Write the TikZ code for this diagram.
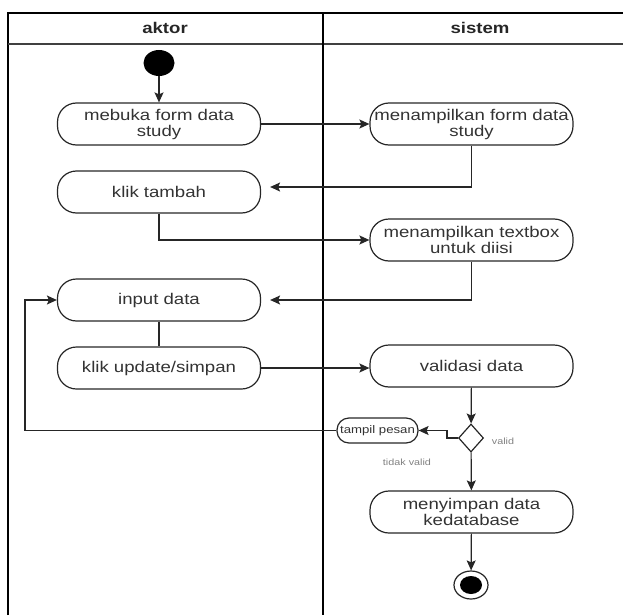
\documentclass[tikz,border=0pt]{standalone}
\usepackage{fontspec}
\setmainfont{Liberation Sans}[FakeStretch=1.2]
\usetikzlibrary{arrows.meta,shapes.geometric}

\tikzset{
  act/.style={draw=black!85, line width=1.2pt, rounded corners=19pt,
    minimum width=203pt, minimum height=42pt, inner sep=0pt, align=center,
    text=black!80, font=\fontsize{15.5}{16}\selectfont},
  flow/.style={draw=black!85, line width=1.2pt,
    -{Stealth[length=10pt,width=9pt,inset=2pt]}},
  link/.style={draw=black!85, line width=1.2pt},
  lane/.style={line width=1.5pt},
  guard/.style={text=black!50, font=\fontsize{9}{10}\selectfont},
}

\begin{document}
\begin{tikzpicture}[x=1pt,y=-1pt]
  \useasboundingbox (0,0) rectangle (623,615);
  \coordinate (tl) at (8, 13);
  \coordinate (tr) at (623, 13);
  \coordinate (hl) at (8, 44);
  \coordinate (hr) at (623, 44);
  \coordinate (bl) at (8, 615);
  \coordinate (dt) at (323, 13);
  \coordinate (db) at (323, 615);

  % swimlanes
  \draw[lane] (bl) -- (tl) -- (tr);
  \draw[lane, draw=black!75] (hl) -- (hr);
  \draw[line width=2.7pt] (dt) -- (db);

  \node[font=\bfseries\fontsize{15.5}{16}\selectfont, text=black!85] (aktorhd) at (165, 28) {aktor};
  \node[font=\bfseries\fontsize{15.5}{16}\selectfont, text=black!85] (sistemhd) at (480, 28) {sistem};

  \node[ellipse, fill=black, minimum width=31pt, minimum height=26pt, inner sep=0pt] (start) at (159, 63) {};

  \node[act] (open) at (159, 124) {mebuka form data\\study};
  \node[act] (formsys) at (471.5, 124) {menampilkan form data\\study};
  \node[act] (tambah) at (159, 192) {klik tambah};
  \node[act] (textbox) at (471.5, 240) {menampilkan textbox\\untuk diisi};
  \node[act] (input) at (159, 300) {input data};
  \node[act] (update) at (159, 368) {klik update/simpan};
  \node[act] (validasi) at (471.5, 366) {validasi data};
  \node[diamond, draw=black!85, line width=1.2pt, minimum width=25pt, minimum height=28pt, inner sep=0pt] (dec) at (471, 438) {};
  \node[act, minimum width=81pt, minimum height=25pt, rounded corners=12pt, font=\fontsize{11}{12}\selectfont] (msg) at (377.5, 430.5) {tampil pesan};
  \node[act] (save) at (471.5, 512) {menyimpan data\\kedatabase};
  \node[ellipse, draw=black!85, line width=1.2pt, minimum width=34pt, minimum height=28pt, inner sep=0pt] (end) at (471, 585) {};
  \fill (end.center) ellipse [x radius=11pt, y radius=9pt];

  \node[guard] (validlbl) at (503, 441) {valid};
  \node[guard] (tidaklbl) at (407, 462) {tidak valid};

  \draw[flow] (start) -- (open);
  \draw[flow] (open) -- (formsys);
  \draw[flow] (formsys.south) |- ([xshift=9pt,yshift=5pt]tambah.east);
  \draw[flow] (tambah.south) |- (textbox.west);
  \draw[flow] (textbox.south) |- ([xshift=9pt]input.east);
  \draw[link] (input) -- (update);
  \draw[flow] (update.east) -- (update.east -| validasi.west);
  \draw[flow] (validasi) -- (dec);
  \draw[flow] (dec.west) -- ++(-11, 0) |- (msg.east);
  \draw[flow] (msg.west) -| ([xshift=-32pt]input.west) -- (input.west);
  \draw[flow] (dec) -- (save);
  \draw[flow] (save) -- (end);
\end{tikzpicture}
\end{document}
